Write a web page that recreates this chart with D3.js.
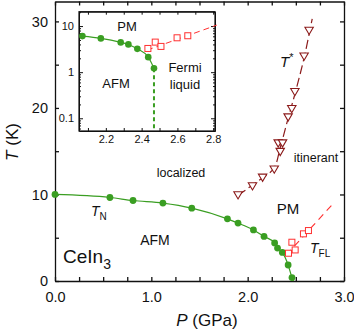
<!DOCTYPE html>
<html lang="en">
<head>
    <meta charset="UTF-8">
    <title>CeIn3 phase diagram</title>
    <script src="https://d3js.org/d3.v7.min.js"></script>
    <style>
        body { margin: 0; background: #fff; }
        svg text { font-family: "Liberation Sans", Arial, sans-serif; fill: #111; }
        .tick text { font-size: 14.5px; }
        .inset .tick text { font-size: 11px; }
    </style>
</head>
<body>
<svg width="354" height="331"></svg>

<script type="application/javascript">

    // T_N (main panel)
    const tnP = [0, 0.57, 0.81, 1.12, 1.42, 1.79, 1.90, 2.06, 2.17, 2.28, 2.31, 2.36, 2.42, 2.46]
    const tnT = [10.0, 9.65, 9.3, 9.0, 8.42, 7.18, 6.69, 5.9, 5.15, 4.4, 3.8, 3.3, 1.85, 0.4]
    const tnEnd = [2.475, 0]

    // T_FL (main panel)
    const flP = [2.424, 2.459, 2.493, 2.579, 2.631]
    const flT = [3.21, 4.48, 3.59, 5.45, 5.83]
    const flLineP = [2.40, 2.90]
    const flLineT = [3.0, 9.1]

    // T* (main panel)
    const tsP = [1.90, 2.05, 2.155, 2.276, 2.338, 2.317, 2.362, 2.42, 2.458, 2.49, 2.586, 2.638]
    const tsT = [9.96, 11.0, 12.0, 12.94, 14.98, 15.96, 15.96, 18.97, 19.93, 21.9, 26.0, 28.97]
    const tsLineP = [1.90, 2.10, 2.27, 2.34, 2.42, 2.50, 2.59, 2.67]
    const tsLineT = [9.9, 11.5, 13.0, 15.5, 18.8, 22.0, 26.0, 30.3]

    // inset (log scale)
    const inTnP = [2.069, 2.172, 2.283, 2.326, 2.376, 2.437, 2.469]
    const inTnT = [6.06, 5.41, 4.43, 4.0, 3.21, 2.12, 1.22]
    const inFlP = [2.435, 2.476, 2.508, 2.598, 2.658]
    const inFlT = [3.27, 4.49, 3.62, 5.57, 6.17]
    const inFlLineP = [2.43, 2.82]
    const inFlLineT = [3.0, 10.5]

    const xTicks = [0, 0.25, 0.5, 0.75, 1, 1.25, 1.5, 1.75, 2, 2.25, 2.5, 2.75, 3]
    const yTicks = [0, 5, 10, 15, 20, 25, 30]
    const inXTicks = [2.1, 2.2, 2.3, 2.4, 2.5, 2.6, 2.7, 2.8]
    const inXLabels = [2.2, 2.4, 2.6, 2.8]
    const inYLabels = [0.1, 1, 10]

    const green = "#3a9e22"
    const red = "#ff3030"
    const maroon = "#8b1a1a"

    const svg = d3.select("svg")

    const x = d3.scaleLinear().domain([0, 3]).range([55, 344])
    const y = d3.scaleLinear().domain([0, 32.3]).range([281, 1.5])

    const pts = (ps, ts) => ps.map((p, i) => [p, ts[i]])

    // ---- main axes
    svg.append("g").attr("transform", "translate(0,281)")
        .call(d3.axisBottom(x).tickValues(xTicks).tickSize(-4).tickSizeOuter(0).tickPadding(11)
            .tickFormat(d => Number.isInteger(d) ? d.toFixed(1) : ""))
    svg.append("g").attr("transform", "translate(0,1.5)")
        .call(d3.axisTop(x).tickValues(xTicks).tickSize(-4).tickSizeOuter(0).tickFormat(""))
    svg.append("g").attr("transform", "translate(55,0)")
        .call(d3.axisLeft(y).tickValues(yTicks).tickSize(-4).tickSizeOuter(0).tickPadding(7)
            .tickFormat(d => d % 10 === 0 ? d : ""))
    svg.append("g").attr("transform", "translate(344,0)")
        .call(d3.axisRight(y).tickValues(yTicks).tickSize(-4).tickSizeOuter(0).tickFormat(""))
    svg.selectAll(".domain, .tick line").attr("stroke", "#111").attr("stroke-width", 1.3)
    svg.selectAll(".tick text").attr("fill", "#111")

    // axis titles
    svg.append("text").attr("x", 207).attr("y", 326).attr("text-anchor", "middle")
        .style("font-size", "17px")
        .html('<tspan font-style="italic">P</tspan> (GPa)')
    svg.append("text").attr("transform", "translate(18,142) rotate(-90)").attr("text-anchor", "middle")
        .style("font-size", "17px")
        .html('<tspan font-style="italic">T</tspan> (K)')

    // ---- main data
    const line = d3.line().x(d => x(d[0])).y(d => y(d[1]))

    svg.append("path")
        .datum(pts(tsLineP, tsLineT))
        .attr("d", line.curve(d3.curveCatmullRom))
        .attr("fill", "none").attr("stroke", maroon).attr("stroke-width", 1.2)
        .attr("stroke-dasharray", "9,4")

    svg.append("path")
        .datum(pts(flLineP, flLineT))
        .attr("d", line.curve(d3.curveLinear))
        .attr("fill", "none").attr("stroke", red).attr("stroke-width", 1.1)
        .attr("stroke-dasharray", "7,5")

    svg.append("path")
        .datum(pts(tnP, tnT).concat([tnEnd]))
        .attr("d", line.curve(d3.curveMonotoneX))
        .attr("fill", "none").attr("stroke", green).attr("stroke-width", 1.2)

    svg.selectAll(".tn").data(pts(tnP, tnT)).enter().append("circle")
        .attr("cx", d => x(d[0])).attr("cy", d => y(d[1])).attr("r", 3.4)
        .attr("fill", green)

    svg.selectAll(".fl").data(pts(flP, flT)).enter().append("rect")
        .attr("x", d => x(d[0]) - 3).attr("y", d => y(d[1]) - 3)
        .attr("width", 6).attr("height", 6)
        .attr("fill", "white").attr("stroke", red).attr("stroke-width", 1)

    svg.selectAll(".ts").data(pts(tsP, tsT)).enter().append("path")
        .attr("transform", d => `translate(${x(d[0])},${y(d[1])})`)
        .attr("d", "M-4.2,-3L4.2,-3L0,4.2Z")
        .attr("fill", "white").attr("stroke", maroon).attr("stroke-width", 1.1)

    // ---- main labels
    const lbl = (tx, ty, size, html, anchor) => svg.append("text")
        .attr("x", tx).attr("y", ty).attr("text-anchor", anchor || "start")
        .style("font-size", size + "px").html(html)

    lbl(63, 263, 19, 'CeIn<tspan dy="6" font-size="14">3</tspan>')
    lbl(155, 245, 14, 'AFM', "middle")
    lbl(91, 216, 14, '<tspan font-style="italic">T</tspan><tspan dy="4" font-size="10">N</tspan>')
    lbl(181, 177, 12.5, 'localized', "middle")
    lbl(316, 162, 12.5, 'itinerant', "middle")
    lbl(288, 214, 15, 'PM', "middle")
    lbl(310, 253, 14, '<tspan font-style="italic">T</tspan><tspan dy="4" font-size="10">FL</tspan>')
    lbl(280, 67, 15, '<tspan font-style="italic">T</tspan><tspan dy="-6" font-size="11">*</tspan>')

    // ---- inset
    const inset = svg.append("g").attr("class", "inset")
    const xi = d3.scaleLinear().domain([2.05, 2.81]).range([79, 215])
    const yi = d3.scaleLog().domain([0.053, 20.5]).range([131, 11.7])

    inset.append("rect").attr("x", 79).attr("y", 11.7).attr("width", 136).attr("height", 119.3)
        .attr("fill", "white")

    const logTicks = []
    ;[0.01, 0.1, 1, 10].forEach(dec => {
        for (let k = 1; k <= 9; k++) {
            const v = +(dec * k).toPrecision(2)
            if (v >= 0.053 && v <= 20.5) logTicks.push(v)
        }
    })

    inset.append("g").attr("transform", "translate(0,131)")
        .call(d3.axisBottom(xi).tickValues(inXTicks).tickSize(-3).tickSizeOuter(0).tickPadding(4)
            .tickFormat(d => inXLabels.some(v => Math.abs(v - d) < 1e-6) ? d.toFixed(1) : ""))
    inset.append("g").attr("transform", "translate(0,11.7)")
        .call(d3.axisTop(xi).tickValues(inXTicks).tickSize(-3).tickSizeOuter(0).tickFormat(""))
    const yl = inset.append("g").attr("transform", "translate(79,0)")
        .call(d3.axisLeft(yi).tickValues(logTicks).tickSize(-2).tickSizeOuter(0).tickPadding(5)
            .tickFormat(d => inYLabels.includes(d) ? String(d) : ""))
    const yr = inset.append("g").attr("transform", "translate(215,0)")
        .call(d3.axisRight(yi).tickValues(logTicks).tickSize(-2).tickSizeOuter(0).tickFormat(""))
    yl.selectAll(".tick").filter(d => inYLabels.includes(d)).select("line").attr("x2", 4)
    yr.selectAll(".tick").filter(d => inYLabels.includes(d)).select("line").attr("x2", -4)
    inset.selectAll(".domain, .tick line").attr("stroke", "#111").attr("stroke-width", 1)
    inset.selectAll(".tick text").attr("fill", "#111")
    inset.append("rect").attr("x", 79).attr("y", 11.7).attr("width", 136).attr("height", 119.3)
        .attr("fill", "none").attr("stroke", "#111").attr("stroke-width", 1.2)

    const lineI = d3.line().x(d => xi(d[0])).y(d => yi(d[1]))

    inset.append("path")
        .datum(pts(inFlLineP, inFlLineT))
        .attr("d", lineI)
        .attr("fill", "none").attr("stroke", red).attr("stroke-width", 1)
        .attr("stroke-dasharray", "6,4")

    const lastP = inTnP[inTnP.length - 1]
    inset.append("line")
        .attr("x1", xi(lastP)).attr("x2", xi(lastP))
        .attr("y1", yi(inTnT[inTnT.length - 1])).attr("y2", 131)
        .attr("stroke", green).attr("stroke-width", 2).attr("stroke-dasharray", "4,3")

    inset.append("path")
        .datum(pts(inTnP, inTnT))
        .attr("d", lineI.curve(d3.curveMonotoneX))
        .attr("fill", "none").attr("stroke", green).attr("stroke-width", 1.1)

    inset.selectAll(".itn").data(pts(inTnP, inTnT)).enter().append("circle")
        .attr("cx", d => xi(d[0])).attr("cy", d => yi(d[1])).attr("r", 3.3)
        .attr("fill", green)

    inset.selectAll(".ifl").data(pts(inFlP, inFlT)).enter().append("rect")
        .attr("x", d => xi(d[0]) - 3).attr("y", d => yi(d[1]) - 3)
        .attr("width", 6).attr("height", 6)
        .attr("fill", "white").attr("stroke", red).attr("stroke-width", 1)

    const ilbl = (tx, ty, html) => inset.append("text")
        .attr("x", tx).attr("y", ty).attr("text-anchor", "middle")
        .style("font-size", "13px").html(html)

    ilbl(127, 31, 'PM')
    ilbl(116, 88, 'AFM')
    ilbl(185, 72, 'Fermi')
    ilbl(185, 89, 'liquid')

</script>
</body>
</html>
